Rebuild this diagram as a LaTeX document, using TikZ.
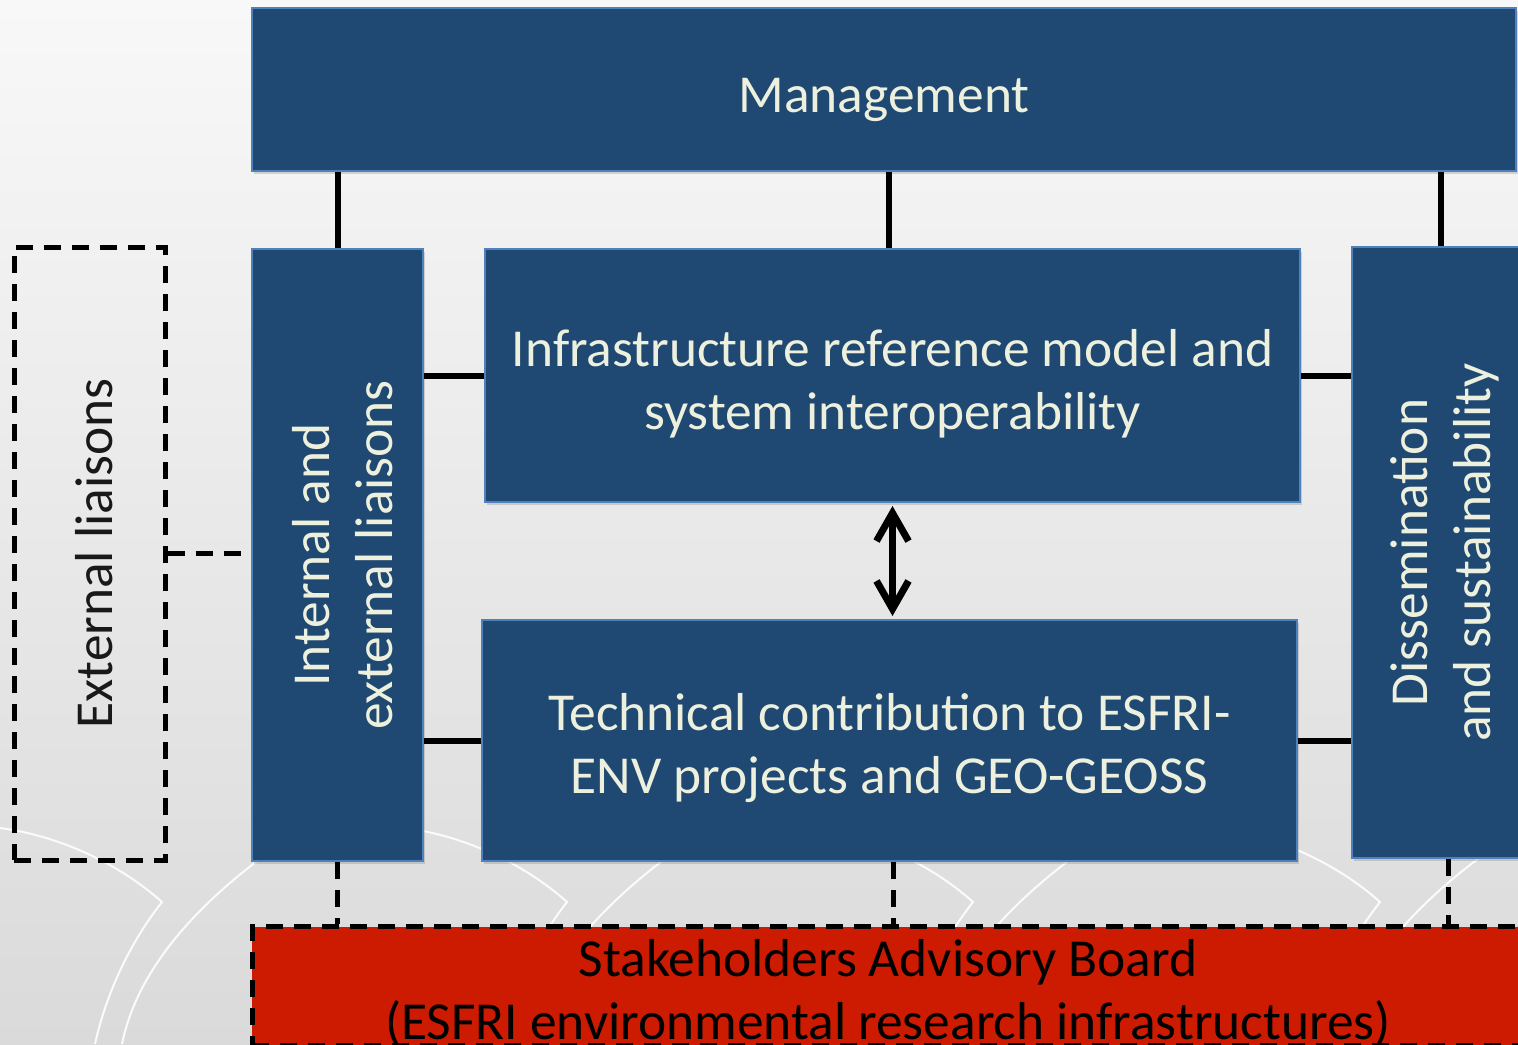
\documentclass[tikz,border=0pt]{standalone}
\usepackage{fontspec}
\setmainfont{Carlito}
\usetikzlibrary{arrows.meta,shadows}
\definecolor{wpblue}{HTML}{1F4972}
\definecolor{wpedge}{HTML}{4F81BD}
\definecolor{wptext}{HTML}{EEF0DE}
\definecolor{boardred}{HTML}{CC1B00}
\definecolor{bgtop}{HTML}{F8F8F8}
\definecolor{bgbot}{HTML}{DADADA}
\tikzstyle{wp}=[rectangle,draw=wpedge,fill=wpblue,line width=1pt,text=wptext,align=center,inner sep=0pt,drop shadow={shadow xshift=1pt,shadow yshift=-1.5pt,opacity=0.3}]
\tikzstyle{wplab}=[text=wptext,align=center]
\tikzstyle{liaison}=[rectangle,draw=black,dash pattern=on 8.5pt off 5.5pt,line width=2.5pt,inner sep=0pt]
\tikzstyle{board}=[rectangle,draw=black,fill=boardred,dash pattern=on 8.5pt off 5.5pt,line width=2.5pt,align=center,inner sep=0pt]
\tikzstyle{link}=[-,line width=3pt]
\tikzstyle{dlink}=[-,line width=2.5pt,dash pattern=on 8.5pt off 5.5pt]
\tikzstyle{arc}=[white,line width=1pt,opacity=0.9]

\begin{document}
\begin{tikzpicture}[x=0.5pt,y=-0.5pt,font=\fontsize{26.7}{31.5}\selectfont]
	\useasboundingbox (0,0) rectangle (1518,1044);
	\clip (0,0) rectangle (1518,1044);
	\fill[top color=bgtop,bottom color=bgbot] (0,0) rectangle (1518,1044);
	
	% background hooks
	\foreach \c in {162,567,973,1380} {
		\draw[arc] (\c-162,828) .. controls (\c-100,836) and (\c-40,866) .. (\c,902)
			.. controls (\c-30,940) and (\c-55,990) .. (\c-67,1044);
		\draw[arc] (\c+130,836) .. controls (\c+35,900) and (\c-25,970) .. (\c-40,1044);
	}
	
	% work packages
	\node[wp, minimum width=632pt, minimum height=81.5pt,
		label={[wplab,yshift=-5pt]center:Management}] (mgmt) at (884,89.5) {};
	\node[wp, minimum width=85.5pt, minimum height=306pt,
		label={[wplab,xshift=2.5pt,rotate=90]center:{Internal and\\external liaisons}}] (intl) at (337.5,555) {};
	\node[wp, minimum width=93pt, minimum height=305.5pt,
		label={[wplab,rotate=90]center:{Dissemination\\and sustainability}}] (diss) at (1445,552.5) {};
	\node[wp, minimum width=407.5pt, minimum height=126.5pt,
		label={[wplab,yshift=-4pt]center:{Infrastructure reference model and\\system interoperability}}] (irm) at (892.5,375.5) {};
	\node[wp, minimum width=407.5pt, minimum height=120.5pt,
		label={[wplab,yshift=-4pt]center:{Technical contribution to ESFRI-\\ENV projects and GEO-GEOSS}}] (tech) at (889.5,740.5) {};
	
	\node[liaison, minimum width=75.5pt, minimum height=306.5pt,
		label={[text=black!90,xshift=2.5pt,rotate=90]center:External liaisons}] (ext) at (89.5,553.5) {};
	\node[board, minimum width=636pt, minimum height=59.5pt,
		label={[align=center,yshift=-3.5pt]center:{Stakeholders Advisory Board\\(ESFRI environmental research infrastructures)}}] (sab) at (888,986) {};
	
	% links
	\draw[link] (intl.north) -- (intl.north |- mgmt.south);
	\draw[link] ([xshift=-1.75pt]irm.north) -- ([xshift=-1.75pt]irm.north |- mgmt.south);
	\draw[link] ([xshift=-2pt]diss.north) -- ([xshift=-2pt]diss.north |- mgmt.south);
	\draw[link] (irm.west) -- (irm.west -| intl.east);
	\draw[link] (tech.west) -- (tech.west -| intl.east);
	\draw[link] (irm.east) -- (irm.east -| diss.west);
	\draw[link] (tech.east) -- (tech.east -| diss.west);
	\draw[line width=3.5pt, line cap=round, line join=round, {Straight Barb[length=14pt,width=16pt]}-{Straight Barb[length=14pt,width=16pt]}, shorten <=1.5pt, shorten >=1.5pt] (irm.south) -- (irm.south |- tech.north);
	
	\draw[dlink] (ext.east) -- (ext.east -| intl.west);
	\draw[dlink] (intl.south) -- (intl.south |- sab.north);
	\draw[dlink] ([xshift=1.75pt]tech.south) -- ([xshift=1.75pt]tech.south |- sab.north);
	\draw[dlink] ([xshift=1.5pt]diss.south) -- ([xshift=1.5pt]diss.south |- sab.north);
\end{tikzpicture}
\end{document}
